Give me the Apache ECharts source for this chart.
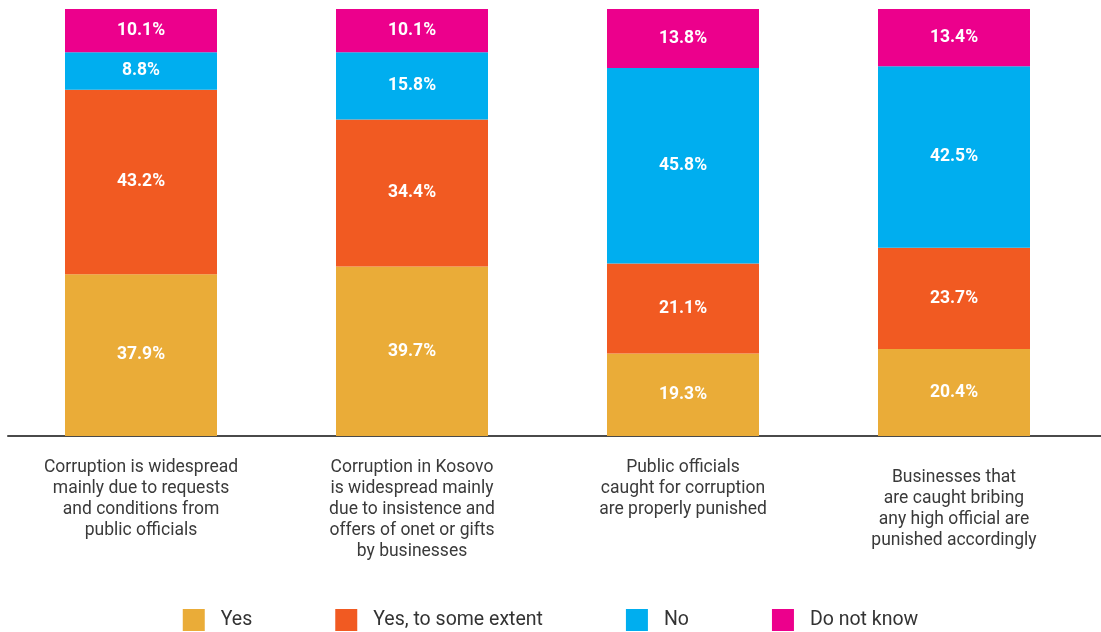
<!DOCTYPE html>
<html>
<head>
<meta charset="utf-8">
<script src="https://cdn.jsdelivr.net/npm/echarts@6/dist/echarts.min.js"></script>
<style>
  html, body { margin: 0; padding: 0; background: #ffffff; }
  #chart { width: 1101px; height: 632px; }
</style>
</head>
<body>
<div id="chart"></div>
<script>
// Survey statements (one stacked bar each)
const categories = [
  'Corruption is widespread\nmainly due to requests\nand conditions from\npublic officials',
  'Corruption in Kosovo\nis widespread mainly\ndue to insistence and\noffers of onet or gifts\nby businesses',
  'Public officials\ncaught for corruption\nare properly punished',
  'Businesses that\nare caught bribing\nany high official are\npunished accordingly'
];

// Answer shares, in percent
const yesValues = [37.9, 39.7, 19.3, 20.4];
const someExtentValues = [43.2, 34.4, 21.1, 23.7];
const noValues = [8.8, 15.8, 45.8, 42.5];
const dontKnowValues = [10.1, 10.1, 13.8, 13.4];

const seriesNames = ['Yes', 'Yes, to some extent', 'No', 'Do not know'];
const seriesColors = ['#EAAC38', '#F15A22', '#00AEEF', '#EC008C'];
const seriesValues = [yesValues, someExtentValues, noValues, dontKnowValues];

const FONT = 'Roboto, "Noto Sans", sans-serif';

const chart = echarts.init(document.getElementById('chart'), null, { renderer: 'canvas' });

const series = seriesNames.map((name, i) => ({
  name: name,
  type: 'bar',
  stack: 'total',
  barWidth: 152,
  xAxisIndex: 0,
  yAxisIndex: 0,
  itemStyle: { color: seriesColors[i] },
  label: {
    show: true,
    position: 'inside',
    color: '#ffffff',
    fontFamily: FONT,
    fontWeight: 'bold',
    fontSize: 17.5,
    formatter: p => p.value.toFixed(1) + '%'
  },
  emphasis: { disabled: true },
  data: seriesValues[i]
}));

chart.setOption({
  animation: false,
  backgroundColor: '#ffffff',
  grid: [
    { left: 5.5, right: 11.5, top: 9, bottom: 196, containLabel: false },
    // full-width baseline
    { left: 8, right: 0, top: 9, bottom: 196, containLabel: false }
  ],
  legend: {
    bottom: -4,
    left: 'center',
    itemWidth: 22,
    itemHeight: 22,
    itemGap: 83,
    icon: 'rect',
    textStyle: { fontFamily: FONT, fontSize: 19.5, color: '#333333', padding: [0, 0, 0, 11] },
    data: seriesNames
  },
  xAxis: [
    {
      type: 'category',
      gridIndex: 0,
      data: categories.map((c, i) => i === 3
        ? { value: c, textStyle: { padding: [10, 0, 0, 0] } }
        : c),
      axisLine: { show: false },
      axisTick: { show: false },
      axisLabel: {
        interval: 0,
        margin: 21,
        fontFamily: FONT,
        fontSize: 17.5,
        lineHeight: 21,
        color: '#3a3a3a',
        align: 'center'
      }
    },
    {
      type: 'category',
      gridIndex: 1,
      data: ['a'],
      axisLine: { show: true, lineStyle: { color: '#4a4a4a', width: 2 } },
      axisTick: { show: false },
      axisLabel: { show: false }
    }
  ],
  yAxis: [
    { type: 'value', gridIndex: 0, min: 0, max: 100, show: false },
    { type: 'value', gridIndex: 1, min: 0, max: 100, show: false }
  ],
  series: series
});
</script>
</body>
</html>
